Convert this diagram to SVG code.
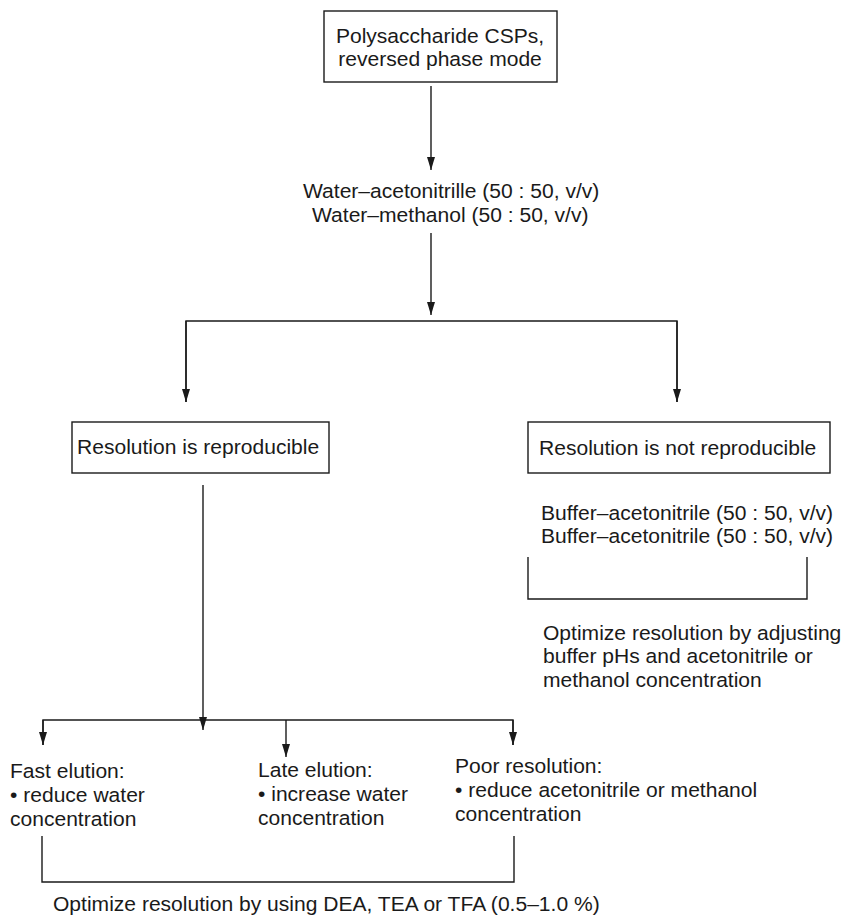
<svg xmlns="http://www.w3.org/2000/svg" width="847" height="915" viewBox="0 0 847 915">
<style>
text { font-family: "Liberation Sans", Arial, Helvetica, sans-serif; font-size: 19.5px; fill: #1a1a1a; }
.box { fill: #ffffff; stroke: #1a1a1a; stroke-width: 1.4; }
.ln { fill: none; stroke: #1a1a1a; stroke-width: 1.4; }
</style>
<defs>
<marker id="ah" viewBox="0 0 13 8" refX="13" refY="4" markerWidth="13" markerHeight="8" markerUnits="userSpaceOnUse" orient="auto">
<path d="M0,0 L13,4 L0,8 z" fill="#1a1a1a"/>
</marker>
</defs>
<rect width="847" height="915" fill="#ffffff"/>

<g id="connectors">
<path class="ln" d="M431,86 V170" marker-end="url(#ah)"/>
<path class="ln" d="M431,233 V315" marker-end="url(#ah)"/>
<path class="ln" d="M186,402 V321 H677 V402" />
<path class="ln" d="M186,321 V402" marker-end="url(#ah)"/>
<path class="ln" d="M677,321 V402" marker-end="url(#ah)"/>
<path class="ln" d="M203,485 V730" marker-end="url(#ah)"/>
<path class="ln" d="M43,745 V720 H513 V745"/>
<path class="ln" d="M43,720 V745" marker-end="url(#ah)"/>
<path class="ln" d="M286,720 V757" marker-end="url(#ah)"/>
<path class="ln" d="M513,720 V745" marker-end="url(#ah)"/>
<path class="ln" d="M528,557 V599 H807 V557"/>
<path class="ln" d="M42,836 V882 H514 V836"/>
</g>

<g id="n-start">
<rect class="box" x="324" y="11" width="233" height="71"/>
<text transform="translate(440 43) scale(1.08 1)" text-anchor="middle"><tspan x="0" y="0">Polysaccharide CSPs,</tspan><tspan x="0" y="23">reversed phase mode</tspan></text>
</g>

<g id="n-water">
<text transform="translate(303 198) scale(1.08 1)">Water–acetonitrille (50 : 50, v/v)</text>
<text transform="translate(312 222) scale(1.08 1)">Water–methanol (50 : 50, v/v)</text>
</g>

<g id="n-repro">
<rect class="box" x="72" y="422" width="257" height="51"/>
<text transform="translate(77 454) scale(1.08 1)">Resolution is reproducible</text>
</g>

<g id="n-notrepro">
<rect class="box" x="528" y="422" width="302" height="51"/>
<text transform="translate(539 455) scale(1.08 1)">Resolution is not reproducible</text>
</g>

<g id="n-buffer">
<text transform="translate(541 520) scale(1.08 1)">Buffer–acetonitrile (50 : 50, v/v)</text>
<text transform="translate(541 543) scale(1.08 1)">Buffer–acetonitrile (50 : 50, v/v)</text>
</g>

<g id="n-optimize-buffer">
<text transform="translate(543 640) scale(1.08 1)"><tspan x="0" y="0">Optimize resolution by adjusting</tspan><tspan x="0" y="23.5">buffer pHs and acetonitrile or</tspan><tspan x="0" y="47">methanol concentration</tspan></text>
</g>

<g id="n-fast">
<text transform="translate(10 778) scale(1.08 1)"><tspan x="0" y="0">Fast elution:</tspan><tspan x="0" y="24">• reduce water</tspan><tspan x="0" y="48">concentration</tspan></text>
</g>

<g id="n-late">
<text transform="translate(258 777) scale(1.08 1)"><tspan x="0" y="0">Late elution:</tspan><tspan x="0" y="24">• increase water</tspan><tspan x="0" y="48">concentration</tspan></text>
</g>

<g id="n-poor">
<text transform="translate(455 773) scale(1.08 1)"><tspan x="0" y="0">Poor resolution:</tspan><tspan x="0" y="24">• reduce acetonitrile or methanol</tspan><tspan x="0" y="48">concentration</tspan></text>
</g>

<g id="n-optimize-dea">
<text transform="translate(53 911) scale(1.08 1)">Optimize resolution by using DEA, TEA or TFA (0.5–1.0 %)</text>
</g>
</svg>
